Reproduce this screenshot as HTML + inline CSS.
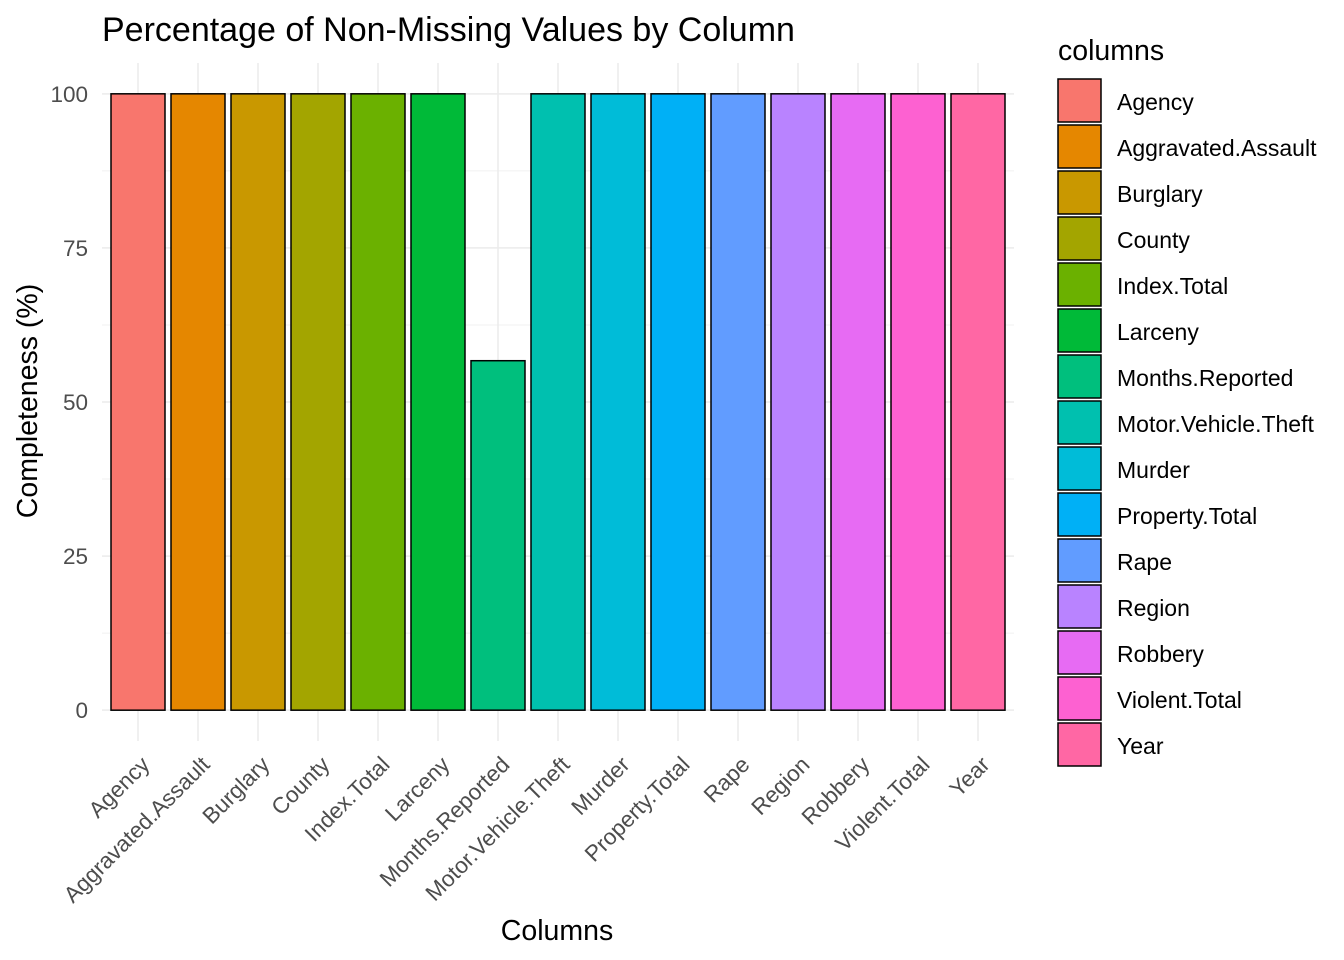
<!DOCTYPE html>
<html><head><meta charset="utf-8"><style>
body{margin:0;background:#fff;}
svg{display:block;font-family:"Liberation Sans",Arial,sans-serif;}
</style></head><body>
<svg id="chart" width="1344" height="960">
<text x="102" y="41" font-size="34" fill="#000">Percentage of Non-Missing Values by Column</text>
<g id="grid"></g><g id="bars"></g><g id="yticks"></g><g id="xticks"></g>
<text x="557" y="940" font-size="28.5" text-anchor="middle" fill="#000">Columns</text>
<text transform="translate(37,401) rotate(-90)" font-size="28.5" text-anchor="middle" fill="#000">Completeness (%)</text>
<text x="1058" y="60" font-size="28.5" fill="#000">columns</text>
<g id="legend"></g>
</svg>
<script>
const categories=["Agency","Aggravated.Assault","Burglary","County","Index.Total","Larceny","Months.Reported","Motor.Vehicle.Theft","Murder","Property.Total","Rape","Region","Robbery","Violent.Total","Year"];
const values=[100,100,100,100,100,100,56.7,100,100,100,100,100,100,100,100];
const colors=["#F8766D","#E58700","#C99800","#A3A500","#6BB100","#00BA38","#00BF7D","#00C0AF","#00BCD8","#00B0F6","#619CFF","#B983FF","#E76BF3","#FD61D1","#FF67A4"];
const yTicks=[0,25,50,75,100];
const NS="http://www.w3.org/2000/svg";
const X0=102,X1=1014,Y0=741,Y1=63,ymin=-5,ymax=105;
const step=(X1-X0)/(categories.length+0.2);
const xc=i=>X0+step*(0.6+i);
const ys=v=>Y0-(v-ymin)/(ymax-ymin)*(Y0-Y1);
function mk(t,a,p){const e=document.createElementNS(NS,t);for(const k in a)e.setAttribute(k,a[k]);p.appendChild(e);return e;}
const grid=document.getElementById('grid');
for(let v=12.5;v<100;v+=25){const l=mk('line',{x1:X0,x2:X1,y1:ys(v),y2:ys(v),stroke:'#f0f0f0','stroke-width':1},grid);}
yTicks.forEach(v=>{const l=mk('line',{x1:X0,x2:X1,y1:ys(v),y2:ys(v),stroke:'#ebebeb','stroke-width':1.5},grid);
const t=mk('text',{x:88,y:ys(v)+8,'font-size':22.5,'text-anchor':'end',fill:'#4d4d4d'},document.getElementById('yticks'));t.textContent=v;});
categories.forEach((c,i)=>{const l=mk('line',{x1:xc(i),x2:xc(i),y1:Y1,y2:Y0,stroke:'#ebebeb','stroke-width':1.5},grid);});
const bars=document.getElementById('bars');
categories.forEach((c,i)=>{const w=step*0.9;
const r=mk('rect',{x:xc(i)-w/2,y:ys(values[i]),width:w,height:ys(0)-ys(values[i]),fill:colors[i],stroke:'#000','stroke-width':1.5},bars);


const tx=xc(i)+13,ty=766;
const t=mk('text',{x:tx,y:ty,'font-size':22.5,'text-anchor':'end',fill:'#4d4d4d',transform:`rotate(-45 ${tx} ${ty})`},document.getElementById('xticks'));
t.textContent=c;


const lg=document.getElementById('legend');
const ky=79+i*46;
const k=mk('rect',{x:1058,y:ky,width:43,height:43,fill:colors[i],stroke:'#000','stroke-width':1.5},lg);


const lt=mk('text',{x:1117,y:ky+31,'font-size':23,fill:'#000'},lg);
lt.textContent=c;


});
</script>
</body></html>
